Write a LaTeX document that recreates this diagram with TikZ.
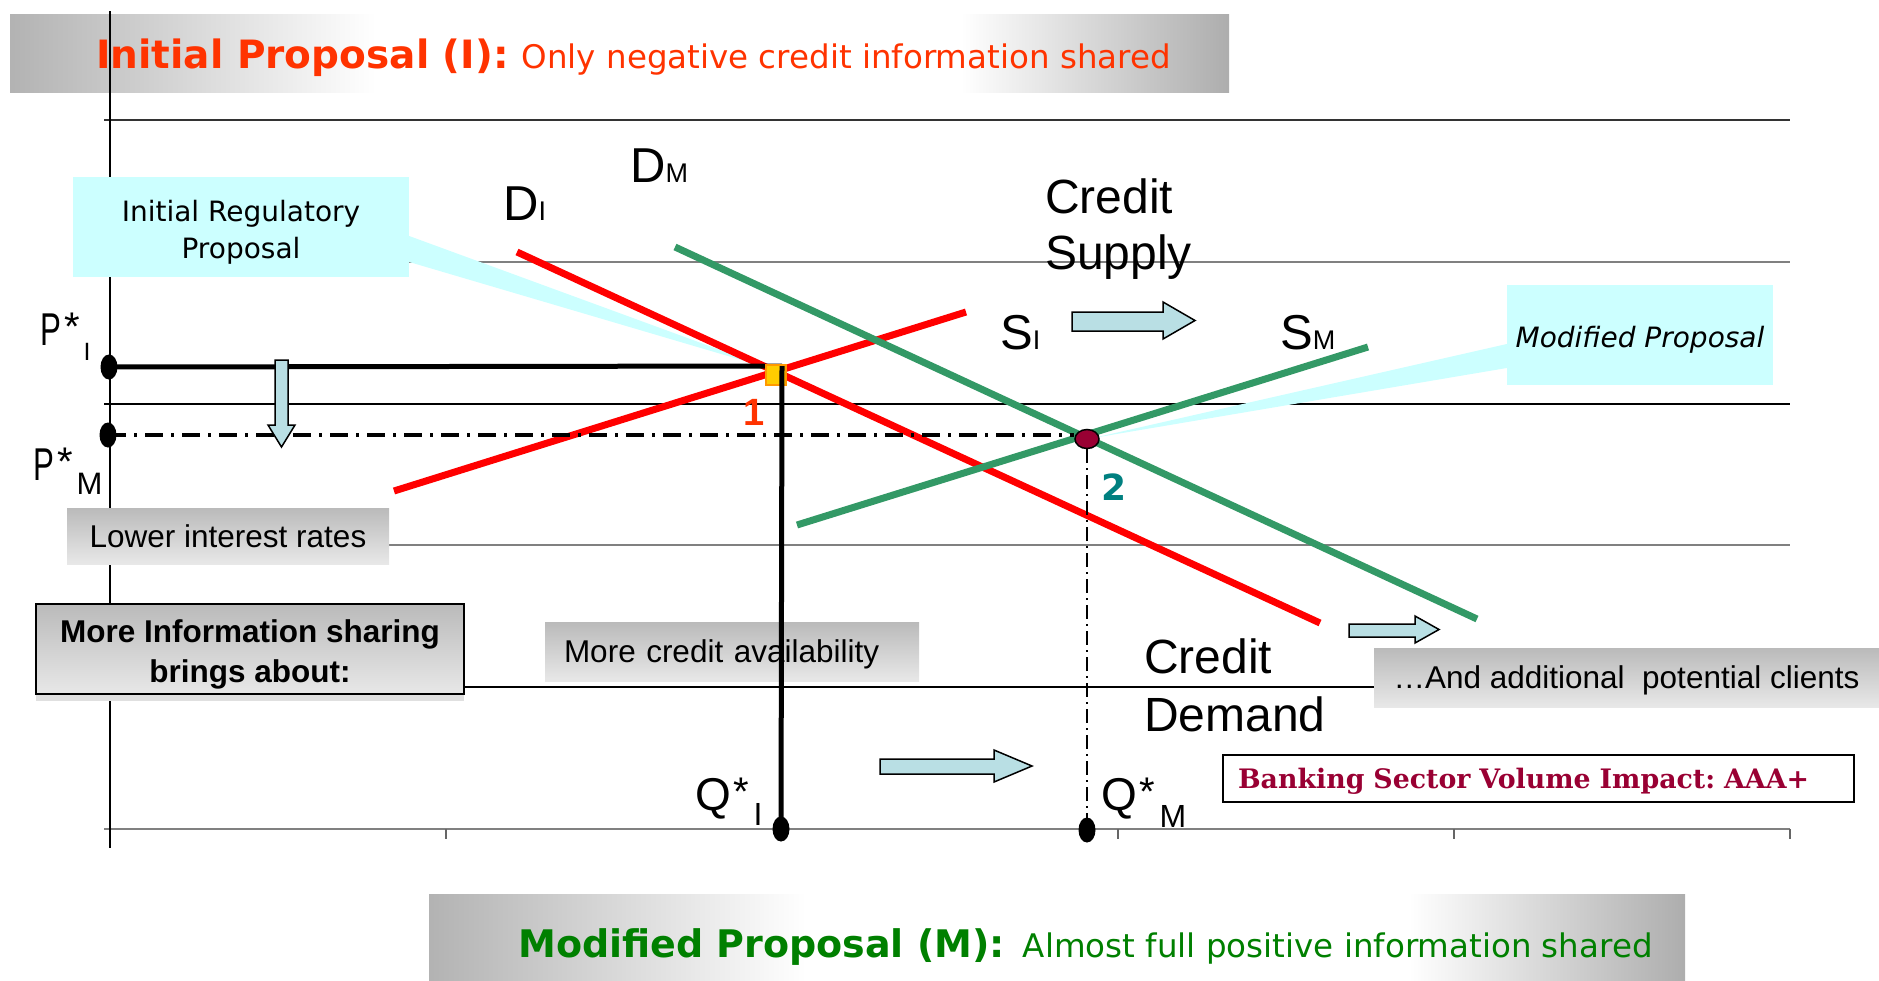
\documentclass[tikz,border=0pt]{standalone}
\usepackage{fontspec}
\setmainfont{Liberation Sans}
\newfontfamily\tahomafont{DejaVu Sans}
\newfontfamily\slabfont{DejaVu Serif}
\usetikzlibrary{shapes.geometric,shadows}
\frenchspacing
\definecolor{titlered}{RGB}{255,51,0}
\definecolor{titlegreen}{RGB}{0,128,0}
\definecolor{initred}{RGB}{255,0,0}
\definecolor{modgreen}{RGB}{51,153,102}
\definecolor{calloutcyan}{RGB}{204,255,255}
\definecolor{arrowblue}{RGB}{185,223,228}
\definecolor{eqmaroon}{RGB}{153,0,51}
\definecolor{eqteal}{RGB}{0,128,128}
\definecolor{eqyellow}{RGB}{255,204,0}
\definecolor{eqorange}{RGB}{255,153,0}
% banner fill: the box is mapped to 25bp..75bp
\pgfdeclarehorizontalshading{bannershade}{100bp}{color(0bp)=(black!30); color(25bp)=(black!30); color(40bp)=(white); color(64bp)=(white); color(75bp)=(black!32); color(100bp)=(black!32)}
\newcommand{\pxfont}[2]{\fontsize{#1}{#2}\selectfont}
% letter, star and a lowered index
\newcommand{\starlabel}[5]{\scalebox{#2}[1]{#1}\kern3pt\raisebox{5pt}{\pxfont{40}{40}*}\kern4pt\raisebox{#5}{\pxfont{#4}{#4}#3}}

\begin{document}
\begin{tikzpicture}[x=1pt, y=-1pt,
    gridline/.style={line width=1.5pt},
    callout/.style={fill=calloutcyan, inner sep=0pt, align=center},
    graybox/.style={top color=black!27, bottom color=black!9, inner sep=0pt, font=\pxfont{31.5}{40}},
    captext/.style={text height=22.5pt, text depth=0pt},
    banner/.style={shading=bannershade, inner sep=0pt},
    curvelab/.style={inner sep=0pt, anchor=base west, font=\pxfont{49}{49}},
    starlab/.style={inner sep=0pt, anchor=base west, font=\pxfont{46}{46}},
    initline/.style={line width=7pt, draw=initred},
    modline/.style={line width=7pt, draw=modgreen},
    dotmark/.style={ellipse, fill=black, inner sep=0pt, minimum width=17pt, minimum height=25pt},
    shiftarrow/.style={draw=black, line width=1.5pt, fill=arrowblue},
  ]
    \useasboundingbox (0,0) rectangle (1879,980);

    % Title banners
    \node[banner, minimum width=1219pt, minimum height=78pt] (topBanner) at (619.5,53) {};
    \node[anchor=base west, inner sep=0pt, text=titlered, font=\tahomafont] (topTitle) at (96,68) {{\bfseries\pxfont{39}{39}Initial Proposal (I):}\hspace{13pt}{\pxfont{32.5}{32.5}Only negative credit information shared}};
    \node[banner, minimum width=1256pt, minimum height=86pt] (botBanner) at (1057,937) {};
    \node[anchor=base west, inner sep=0pt, text=titlegreen, font=\tahomafont] (botTitle) at (518,957) {{\bfseries\pxfont{38}{38}Modified Proposal (M):}\hspace{18pt}{\pxfont{32.5}{32.5}Almost full positive information shared}};

    % Axes and grid
    \foreach \gy/\gc in {120/black!80, 262/black!50, 404/black, 545/black!50, 687/black}
      \draw[gridline, \gc] (104,\gy) -- (1790,\gy);
    \draw[gridline, black!50] (104,829) -- (1790,829);
    \foreach \tx in {446,782,1118,1454,1790}
      \draw[gridline, black!60] (\tx,829) -- (\tx,839);
    \draw[gridline, black] (110,11) -- (110,848);

    % Callouts
    \node[callout, minimum width=336pt, minimum height=100pt, font=\tahomafont\pxfont{28}{37}] (callInit) at (241,227) {\rule{0pt}{31pt}Initial Regulatory\\Proposal};
    \coordinate (tipInit) at (772,369);
    \fill[calloutcyan] ([yshift=-9pt]callInit.east) -- ([yshift=-35pt]callInit.east) -- (tipInit) -- cycle;
    \node[callout, minimum width=266pt, minimum height=100pt, font=\tahomafont\itshape\pxfont{28}{28}] (callMod) at (1640,335) {\rule{0pt}{31pt}Modified Proposal};
    \coordinate (tipMod) at (1093,438);
    \fill[calloutcyan] ([yshift=-9pt]callMod.west) -- ([yshift=-33pt]callMod.west) -- (tipMod) -- cycle;

    % Effect boxes
    \node[graybox, captext, minimum width=322pt, minimum height=56pt] (lowerRates) at (228,536) {Lower interest rates};
    \node[graybox, draw=black, line width=2pt, align=center, minimum width=428pt, minimum height=90pt, font=\bfseries\pxfont{31.5}{40}, drop shadow={shadow xshift=0pt, shadow yshift=-7pt, fill=black!12, opacity=1}] (moreInfo) at (250,649) {\rule{0pt}{34pt}More Information sharing\\brings about:};
    \node[graybox, captext, minimum width=374pt, minimum height=59pt, text width=336pt, align=left, inner xsep=19pt] (moreCredit) at (732,651.5) {More credit availability};
    \node[graybox, captext, minimum width=505pt, minimum height=59pt] (moreClients) at (1626.5,677.5) {…And additional\ \ potential clients};
    \node[draw=black, line width=2pt, fill=white, minimum width=631pt, minimum height=47pt, text width=601pt, inner xsep=15pt, inner ysep=0pt, text height=19.5pt, text depth=0pt, align=left, text=eqmaroon, font=\slabfont\bfseries\pxfont{26.8}{26.8}] (impact) at (1538.5,778.5) {Banking Sector Volume Impact: AAA+};

    % Supply and demand lines
    \coordinate (DIa) at (517,252); \coordinate (DIb) at (1320,623);
    \coordinate (SIa) at (394,491); \coordinate (SIb) at (966,312);
    \coordinate (DMa) at (675,247); \coordinate (DMb) at (1477,619);
    \coordinate (SMa) at (797,525); \coordinate (SMb) at (1368,347);
    \draw[initline] (DIa) -- (DIb);
    \draw[initline] (SIa) -- (SIb);
    \draw[modline] (DMa) -- (DMb);
    \draw[modline] (SMa) -- (SMb);

    % Equilibrium 1
    \node[dotmark] (dotPI) at (109,367) {};
    \node[dotmark] (dotQI) at (781,829) {};
    \coordinate (cornerI) at (782,366);
    \draw[line width=5pt] (dotPI.center) -- (cornerI);
    \node[fill=eqyellow, draw=eqorange, line width=2pt, minimum size=20pt, inner sep=0pt] (eqI) at (776,375) {};
    \draw[line width=5pt] (cornerI) -- (dotQI.center);

    % Equilibrium 2
    \node[dotmark] (dotPM) at (108,435) {};
    \node[dotmark] (dotQM) at (1087,830) {};
    \node[ellipse, fill=eqmaroon, draw=black, line width=1.5pt, minimum width=24pt, minimum height=19pt, inner sep=0pt] (eqM) at (1087,439) {};
    \draw[line width=4pt, dash pattern=on 18pt off 8pt on 3pt off 8pt] (dotPM.center) -- (dotPM.center -| eqM.west);
    \draw[line width=2pt, dash pattern=on 14pt off 5pt on 2pt off 5pt] (eqM.south) -- (dotQM.center);

    % Shift arrows
    \draw[shiftarrow] (1072,312) -- (1163,312) -- (1163,302) -- (1195,320.5) -- (1163,339) -- (1163,331) -- (1072,331) -- cycle;
    \draw[shiftarrow] (1349,624) -- (1415,624) -- (1415,616) -- (1439,629.5) -- (1415,643) -- (1415,637) -- (1349,637) -- cycle;
    \draw[shiftarrow] (880,759) -- (994,759) -- (994,750) -- (1032,766) -- (994,782) -- (994,774) -- (880,774) -- cycle;
    \draw[shiftarrow] (275,360) -- (288,360) -- (288,425) -- (295,425) -- (281.5,447) -- (268,425) -- (275,425) -- cycle;

    % Labels
    \node[curvelab] (labDI) at (503,220) {D{\pxfont{27}{27}I}};
    \node[curvelab] (labDM) at (630,182) {D{\pxfont{27}{27}M}};
    \node[curvelab] (labSI) at (1000,349) {S{\pxfont{27}{27}I}};
    \node[curvelab] (labSM) at (1280,349) {S{\pxfont{27}{27}M}};
    \node[curvelab, anchor=north west, align=left, font=\pxfont{48}{56}] (labSupply) at (1045,179) {Credit\\Supply};
    \node[curvelab, anchor=north west, align=left, font=\pxfont{48}{58}] (labDemand) at (1144,639) {Credit\\Demand};
    \node[starlab] (labPI) at (40,345) {\starlabel{P}{0.68}{I}{25}{-15pt}};
    \node[starlab] (labPM) at (33,480) {\starlabel{P}{0.68}{M}{31}{-14pt}};
    \node[starlab] (labQI) at (695,810) {\starlabel{Q}{1}{I}{32}{-15pt}};
    \node[starlab] (labQM) at (1101,810) {\starlabel{Q}{1}{M}{32}{-17pt}};
    \node[anchor=base, inner sep=0pt, text=titlered, font=\bfseries\pxfont{38}{38}] (labOne) at (754,425) {1};
    \node[anchor=base, inner sep=0pt, text=eqteal, font=\tahomafont\bfseries\pxfont{36}{36}] (labTwo) at (1114,500) {2};
\end{tikzpicture}
\end{document}
